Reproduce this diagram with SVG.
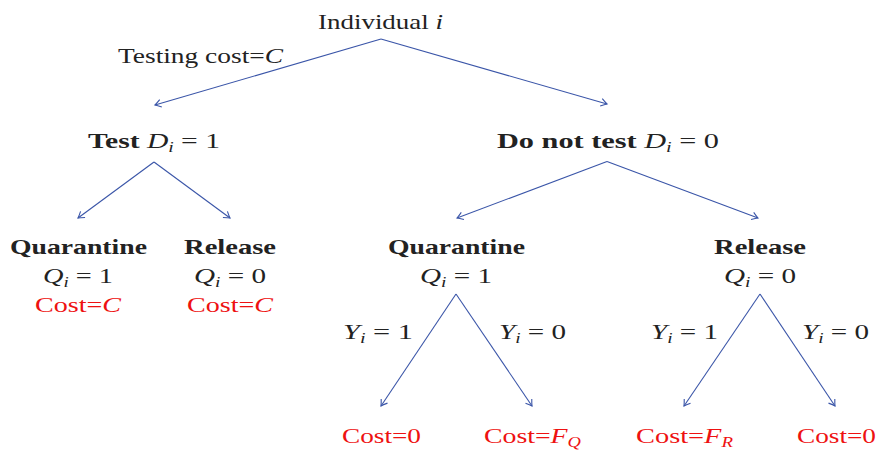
<svg xmlns="http://www.w3.org/2000/svg" width="877" height="450" viewBox="0 0 877 450">
<defs>
<marker id="ah" viewBox="-8 -5 10 10" refX="0" refY="0" markerWidth="10" markerHeight="10" markerUnits="userSpaceOnUse" orient="auto">
<path d="M-6,-3.8 Q-2,-1 0,0 Q-2,1 -6,3.8" fill="none" stroke="#3a55a8" stroke-width="1.1"/>
</marker>
</defs>
<style>
text{font-family:"Liberation Serif","DejaVu Serif",serif;font-size:21px;fill:#222}
.b{font-weight:bold}
.i{font-style:italic}
.s{font-size:14px;font-style:italic}
.r{fill:#ee1111}
.e{stroke:#3a55a8;stroke-width:1.1;fill:none;marker-end:url(#ah)}
</style>
<rect width="877" height="450" fill="#fff"/>
<g id="connectors">
<line class="e" x1="381" y1="39" x2="155" y2="105"/>
<line class="e" x1="381" y1="39" x2="607" y2="104"/>
<line class="e" x1="154" y1="162" x2="78" y2="218"/>
<line class="e" x1="154" y1="162" x2="230" y2="218"/>
<line class="e" x1="607" y1="161.5" x2="457" y2="218"/>
<line class="e" x1="607" y1="161.5" x2="758" y2="218"/>
<line class="e" x1="456" y1="294" x2="381" y2="406"/>
<line class="e" x1="456" y1="294" x2="532" y2="406"/>
<line class="e" x1="760" y1="294" x2="684" y2="406"/>
<line class="e" x1="760" y1="294" x2="835" y2="406"/>
<text x="118" y="63" textLength="165" lengthAdjust="spacingAndGlyphs">Testing cost=<tspan class="i">C</tspan></text>
<text x="343" y="339" textLength="70" lengthAdjust="spacingAndGlyphs"><tspan class="i">Y</tspan><tspan class="s" dy="4">i</tspan><tspan dy="-4"> = 1</tspan></text>
<text x="499" y="339" textLength="67" lengthAdjust="spacingAndGlyphs"><tspan class="i">Y</tspan><tspan class="s" dy="4">i</tspan><tspan dy="-4"> = 0</tspan></text>
<text x="651" y="339" textLength="67" lengthAdjust="spacingAndGlyphs"><tspan class="i">Y</tspan><tspan class="s" dy="4">i</tspan><tspan dy="-4"> = 1</tspan></text>
<text x="802" y="339" textLength="67" lengthAdjust="spacingAndGlyphs"><tspan class="i">Y</tspan><tspan class="s" dy="4">i</tspan><tspan dy="-4"> = 0</tspan></text>
</g>
<g id="root"><text x="318" y="29" textLength="125" lengthAdjust="spacingAndGlyphs">Individual <tspan class="i">i</tspan></text></g>
<g id="test"><text x="88" y="148" textLength="132" lengthAdjust="spacingAndGlyphs"><tspan class="b">Test</tspan> <tspan class="i">D</tspan><tspan class="s" dy="4">i</tspan><tspan dy="-4"> = 1</tspan></text></g>
<g id="notest"><text x="497" y="148" textLength="222" lengthAdjust="spacingAndGlyphs"><tspan class="b">Do not test</tspan> <tspan class="i">D</tspan><tspan class="s" dy="4">i</tspan><tspan dy="-4"> = 0</tspan></text></g>
<g id="t-quarantine">
<text x="10" y="254" class="b" textLength="137" lengthAdjust="spacingAndGlyphs">Quarantine</text>
<text x="43" y="283" textLength="70" lengthAdjust="spacingAndGlyphs"><tspan class="i">Q</tspan><tspan class="s" dy="4">i</tspan><tspan dy="-4"> = 1</tspan></text>
<text x="35" y="312" class="r" textLength="86" lengthAdjust="spacingAndGlyphs">Cost=<tspan class="i">C</tspan></text>
</g>
<g id="t-release">
<text x="184" y="254" class="b" textLength="92" lengthAdjust="spacingAndGlyphs">Release</text>
<text x="194" y="283" textLength="72" lengthAdjust="spacingAndGlyphs"><tspan class="i">Q</tspan><tspan class="s" dy="4">i</tspan><tspan dy="-4"> = 0</tspan></text>
<text x="187" y="312" class="r" textLength="86" lengthAdjust="spacingAndGlyphs">Cost=<tspan class="i">C</tspan></text>
</g>
<g id="n-quarantine">
<text x="388" y="254" class="b" textLength="137" lengthAdjust="spacingAndGlyphs">Quarantine</text>
<text x="420" y="283" textLength="72" lengthAdjust="spacingAndGlyphs"><tspan class="i">Q</tspan><tspan class="s" dy="4">i</tspan><tspan dy="-4"> = 1</tspan></text>
</g>
<g id="n-release">
<text x="714" y="254" class="b" textLength="92" lengthAdjust="spacingAndGlyphs">Release</text>
<text x="724" y="283" textLength="72" lengthAdjust="spacingAndGlyphs"><tspan class="i">Q</tspan><tspan class="s" dy="4">i</tspan><tspan dy="-4"> = 0</tspan></text>
</g>
<g id="leaf-qy1"><text x="342" y="443" class="r" textLength="79" lengthAdjust="spacingAndGlyphs">Cost=0</text></g>
<g id="leaf-qy0"><text x="484" y="443" class="r" textLength="97" lengthAdjust="spacingAndGlyphs">Cost=<tspan class="i">F</tspan><tspan class="s" dy="4">Q</tspan></text></g>
<g id="leaf-ry1"><text x="636" y="443" class="r" textLength="97" lengthAdjust="spacingAndGlyphs">Cost=<tspan class="i">F</tspan><tspan class="s" dy="4">R</tspan></text></g>
<g id="leaf-ry0"><text x="797" y="443" class="r" textLength="79" lengthAdjust="spacingAndGlyphs">Cost=0</text></g>
</svg>
